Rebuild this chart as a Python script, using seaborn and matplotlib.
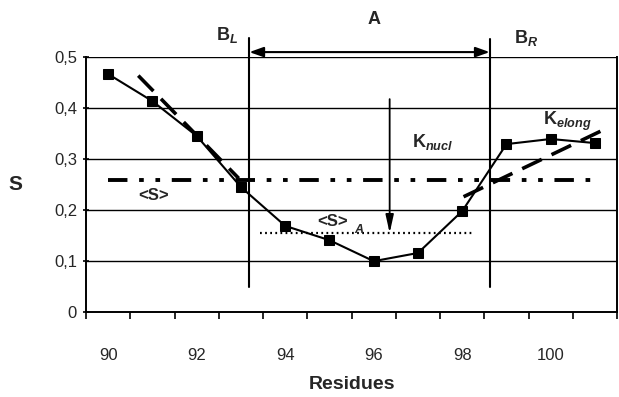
import matplotlib
matplotlib.use("Agg")
import matplotlib.pyplot as plt
import seaborn as sns
import pandas as pd
import numpy as np

residues = [90, 91, 92, 93, 94, 95, 96, 97, 98, 99, 100, 101]
s_values = [0.466, 0.413, 0.345, 0.245, 0.169, 0.141, 0.100, 0.116, 0.198, 0.329, 0.339, 0.331]
tick_labels = ["90", "92", "94", "96", "98", "100"]
tick_pos = [90, 92, 94, 96, 98, 100]
yticks = [0, 0.1, 0.2, 0.3, 0.4, 0.5]
ytick_labels = ["0", "0,1", "0,2", "0,3", "0,4", "0,5"]

mean_s = 0.259
mean_s_a = 0.155
mean_s_a_range = [93.44, 98.26]
b_left = 93.19
b_right = 98.62
knucl_fit_x = [90.68, 92.95]
knucl_fit_y = [0.463, 0.262]
kelong_fit_x = [98.03, 101.29]
kelong_fit_y = [0.226, 0.361]

sns.set_theme(style="white")
plt.rcParams['font.family'] = ['Liberation Sans', 'DejaVu Sans']
plt.rcParams['mathtext.fontset'] = 'custom'
plt.rcParams['mathtext.rm'] = 'Liberation Sans:bold'
plt.rcParams['mathtext.bf'] = 'Liberation Sans:bold'
plt.rcParams['mathtext.it'] = 'Liberation Sans:bold:italic'

fig = plt.figure(figsize=(6.19, 3.97), dpi=100)
ax = fig.add_axes([0.139, 0.2134, 0.858, 0.6438])

df = pd.DataFrame({"Residues": residues, "S": s_values})

for y in yticks[1:]:
    ax.axhline(y, color="black", lw=1.0, zorder=1)

# <S> dash-dot-dot line
ax.plot([90, 101], [mean_s, mean_s], color="black", lw=2.8,
        dashes=(5, 3, 1.2, 3, 1.2, 3), zorder=2)
# <S>_A dotted
ax.plot(mean_s_a_range, [mean_s_a, mean_s_a], color="black", lw=1.6,
        dashes=(0.8, 1.5), zorder=2)
# fit dashed lines
ax.plot(knucl_fit_x, knucl_fit_y, color="black", lw=2.6, dashes=(6, 3), zorder=2)
ax.plot(kelong_fit_x, kelong_fit_y, color="black", lw=2.6, dashes=(6, 3), zorder=2)

sns.lineplot(data=df, x="Residues", y="S", ax=ax, color="black", lw=1.5,
             marker="s", markersize=7, markeredgecolor="black", zorder=4)

# boundary lines
ax.plot([b_left, b_left], [0.05, 0.537], color="black", lw=1.5, clip_on=False, zorder=3)
ax.plot([b_right, b_right], [0.05, 0.535], color="black", lw=1.5, clip_on=False, zorder=3)
ax.annotate("", xy=(b_left, 0.509), xytext=(b_right, 0.509),
            arrowprops=dict(arrowstyle="<|-|>,head_length=0.7,head_width=0.25",
                            color="black", lw=1.5, shrinkA=0, shrinkB=0),
            annotation_clip=False)
# K_nucl arrow
ax.annotate("", xy=(96.36, mean_s_a), xytext=(96.36, 0.417),
            arrowprops=dict(arrowstyle="-|>,head_length=0.9,head_width=0.2",
                            color="black", lw=1.3, shrinkA=0, shrinkB=0))

ax.text(96.0, 0.572, "A", fontsize=13, fontweight="bold", ha="center", va="center")
ax.text(92.94, 0.543, r"$\mathbf{B}_{\mathit{L}}$", fontsize=13, ha="right", va="center")
ax.text(99.16, 0.537, r"$\mathbf{B}_{\mathit{R}}$", fontsize=13, ha="left", va="center")
ax.text(96.86, 0.333, r"$\mathbf{K}_{\mathit{nucl}}$", fontsize=13, ha="left", va="center")
ax.text(99.82, 0.374, r"$\mathbf{K}_{\mathit{elong}}$", fontsize=13, ha="left", va="center")
ax.text(91.02, 0.229, "<S>", fontsize=12, fontweight="bold", ha="center", va="center")
ax.text(94.73, 0.177, "<S>", fontsize=12, fontweight="bold", ha="left", va="center")
ax.text(95.55, 0.160, "A", fontsize=9, fontweight="bold", fontstyle="italic",
        ha="left", va="center")

ax.set_xlim(89.5, 101.5)
ax.set_ylim(0, 0.5)
ax.set_xticks(tick_pos)
ax.set_xticklabels(tick_labels, fontsize=12)
ax.set_xticks(np.arange(89.5, 101.6, 1.0), minor=True)
ax.set_yticks(yticks)
ax.set_yticklabels(ytick_labels, fontsize=12)
ax.tick_params(axis="x", which="major", length=0, pad=26)
ax.tick_params(axis="x", which="minor", length=5, width=1.2, direction="out", color="black", bottom=True)
ax.tick_params(axis="y", which="major", length=5, width=1.2, direction="inout", color="black", left=True, pad=4)

for side in ["left", "bottom", "right"]:
    ax.spines[side].set_visible(True)
    ax.spines[side].set_color("black")
    ax.spines[side].set_linewidth(1.4)
ax.spines["top"].set_visible(False)

ax.set_xlabel("Residues", fontsize=14, fontweight="bold", labelpad=9)
ax.set_ylabel("S", fontsize=15, fontweight="bold", rotation=0, labelpad=28, va="center")

fig.savefig("out.png", dpi=100)
